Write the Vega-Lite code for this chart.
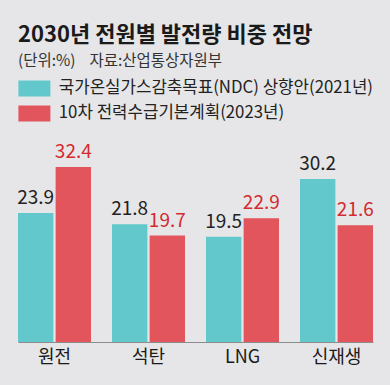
{
  "$schema": "https://vega.github.io/schema/vega-lite/v6.json",
  "width": 355,
  "height": 216,
  "autosize": "none",
  "padding": {"left": 18, "top": 126, "right": 17, "bottom": 43},
  "background": "#e6e6e8",
  "title": {
    "text": "2030년 전원별 발전량 비중 전망",
    "subtitle": "(단위:%)\u00a0\u00a0\u00a0\u00a0자료:산업통상자원부",
    "anchor": "start",
    "frame": "group",
    "font": "Noto Sans CJK KR",
    "fontSize": 22,
    "fontWeight": "bold",
    "color": "#1a1a1a",
    "subtitleFont": "Noto Sans CJK KR",
    "subtitleFontSize": 15.5,
    "subtitleColor": "#333333",
    "subtitlePadding": 7,
    "offset": 10
  },
  "data": {
    "values": [
      {"category": "원전", "series": "국가온실가스감축목표(NDC) 상향안(2021년)", "value": 23.9},
      {"category": "원전", "series": "10차 전력수급기본계획(2023년)", "value": 32.4},
      {"category": "석탄", "series": "국가온실가스감축목표(NDC) 상향안(2021년)", "value": 21.8},
      {"category": "석탄", "series": "10차 전력수급기본계획(2023년)", "value": 19.7},
      {"category": "LNG", "series": "국가온실가스감축목표(NDC) 상향안(2021년)", "value": 19.5},
      {"category": "LNG", "series": "10차 전력수급기본계획(2023년)", "value": 22.9},
      {"category": "신재생", "series": "국가온실가스감축목표(NDC) 상향안(2021년)", "value": 30.2},
      {"category": "신재생", "series": "10차 전력수급기본계획(2023년)", "value": 21.6}
    ]
  },
  "encoding": {
    "x": {
      "field": "category",
      "type": "nominal",
      "sort": ["원전", "석탄", "LNG", "신재생"],
      "scale": {"paddingInner": 0.2234, "paddingOuter": 0},
      "title": null,
      "axis": {
        "labelAngle": 0,
        "ticks": false,
        "domainColor": "#8c8c8c",
        "domainWidth": 1,
        "labelFont": "Noto Sans CJK KR",
        "labelFontSize": 18,
        "labelColor": "#1a1a1a",
        "labelPadding": 6
      }
    },
    "xOffset": {
      "field": "series",
      "type": "nominal",
      "sort": ["국가온실가스감축목표(NDC) 상향안(2021년)", "10차 전력수급기본계획(2023년)"],
      "scale": {"paddingInner": 0.06}
    },
    "y": {
      "field": "value",
      "type": "quantitative",
      "scale": {"domain": [0, 40]},
      "axis": null
    }
  },
  "layer": [
    {
      "mark": {"type": "bar"},
      "encoding": {
        "color": {
          "field": "series",
          "type": "nominal",
          "sort": ["국가온실가스감축목표(NDC) 상향안(2021년)", "10차 전력수급기본계획(2023년)"],
          "scale": {
            "domain": ["국가온실가스감축목표(NDC) 상향안(2021년)", "10차 전력수급기본계획(2023년)"],
            "range": ["#62c8cc", "#e2555c"]
          },
          "legend": {
            "orient": "none",
            "direction": "vertical",
            "legendX": 8,
            "legendY": -46,
            "title": null,
            "symbolType": "M-2,-1H2V1H-2Z",
            "symbolSize": 256,
            "symbolStrokeWidth": 0,
            "symbolOpacity": 1,
            "labelFont": "Noto Sans CJK KR",
            "labelFontSize": 16.8,
            "labelColor": "#222222",
            "labelOffset": 16,
            "labelLimit": 400,
            "rowPadding": 7
          }
        }
      }
    },
    {
      "mark": {"type": "text", "baseline": "bottom", "dy": -5, "fontSize": 19, "font": "Noto Sans CJK KR"},
      "encoding": {
        "text": {"field": "value", "type": "quantitative", "format": ".1f"},
        "color": {
          "condition": {"test": "datum.series === '10차 전력수급기본계획(2023년)'", "value": "#d42a30"},
          "value": "#222222"
        }
      }
    }
  ],
  "config": {"view": {"stroke": null}}
}
